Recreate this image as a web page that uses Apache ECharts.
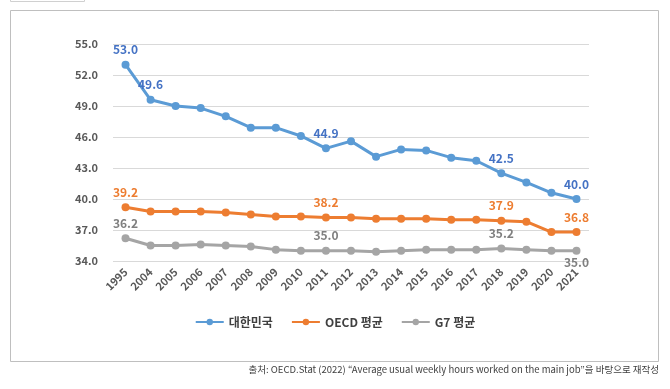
<!DOCTYPE html>
<html><head><meta charset="utf-8">
<script src="https://cdn.jsdelivr.net/npm/echarts@6/dist/echarts.min.js"></script>
<style>html,body{margin:0;padding:0;background:#fff}#c{width:670px;height:389px}</style>
</head><body><div id="c"></div>
<script>
const years = ['1995','2004','2005','2006','2007','2008','2009','2010','2011','2012','2013','2014','2015','2016','2017','2018','2019','2020','2021'];
const korea = [53.0,49.6,49.0,48.8,48.0,46.9,46.9,46.1,44.9,45.6,44.1,44.8,44.7,44.0,43.7,42.5,41.6,40.6,40.0];
const oecd  = [39.2,38.8,38.8,38.8,38.7,38.5,38.3,38.3,38.2,38.2,38.1,38.1,38.1,38.0,38.0,37.9,37.8,36.8,36.8];
const g7    = [36.2,35.5,35.5,35.6,35.5,35.4,35.1,35.0,35.0,35.0,34.9,35.0,35.1,35.1,35.1,35.2,35.1,35.0,35.0];
const seriesNames = ['대한민국','OECD 평균','G7 평균'];
const koreaLabelIdx = [0,1,8,15,18];
const oecdLabelIdx = [0,8,15,18];
const g7LabelIdx = [0,8,15];
const g7LabelBelowIdx = [18];
const yTicks = [34,37,40,43,46,49,52,55];
const sourceText = '출처: OECD.Stat (2022) “Average usual weekly hours worked on the main job”을 바탕으로 재작성';

const FONT = '"Noto Sans CJK KR", "Noto Sans", sans-serif';
const colors = ['#5B9BD5','#ED7D31','#A5A5A5'];
const labelColors = ['#4472C4','#ED7D31','#7F7F7F'];

function mk(values, idxAbove, idxBelow) {
  return values.map((v,i)=>{
    const o = {value:v};
    if (idxAbove.includes(i)) o.label = {show:true, position:'top'};
    else if (idxBelow && idxBelow.includes(i)) o.label = {show:true, position:'bottom', distance:2};
    return o;
  });
}
const chart = echarts.init(document.getElementById('c'));
const lblBase = (c)=>({show:false, fontFamily:FONT, fontWeight:'bold', fontSize:12, color:c, distance:5, formatter:p=>p.value.toFixed(1)});
chart.setOption({
  animation:false,
  grid:{left:113, right:81, top:44, bottom:128},
  xAxis:{type:'category', data:years, boundaryGap:true,
    axisLine:{show:false}, axisTick:{show:false},
    axisLabel:{rotate:45, fontFamily:FONT, fontSize:11, fontWeight:'bold', color:'#595959', margin:9, interval:0}},
  yAxis:{type:'value', min:34, max:55, interval:3,
    axisLine:{show:false}, axisTick:{show:false},
    splitLine:{lineStyle:{color:'#D9D9D9', width:1}},
    axisLabel:{fontFamily:FONT, fontSize:11, fontWeight:'bold', color:'#595959', margin:15, formatter:v=>v.toFixed(1)}},
  legend:{data:seriesNames, bottom:56, left:'center', itemWidth:28, itemHeight:8, itemGap:18,
    textStyle:{fontFamily:FONT, fontSize:12, fontWeight:'bold', color:'#404040'}},
  title:{text:sourceText, right:6, bottom:10, textStyle:{fontFamily:FONT, fontSize:9.5, fontWeight:'normal', color:'#404040'}},
  graphic:[
    {type:'rect', shape:{x:10.5,y:10.5,width:648,height:351}, style:{fill:'none', stroke:'#BFBFBF', lineWidth:1}, silent:true, z:-1},
    {type:'rect', shape:{x:10.5,y:-10,width:74,height:11.5}, style:{fill:'none', stroke:'#D0D0D0', lineWidth:1}, silent:true, z:-1}
  ],
  series:[
    {name:seriesNames[0], type:'line', data:mk(korea,koreaLabelIdx,null), color:colors[0], lineStyle:{width:3}, symbol:'circle', symbolSize:8, label:lblBase(labelColors[0])},
    {name:seriesNames[1], type:'line', data:mk(oecd,oecdLabelIdx,null), color:colors[1], lineStyle:{width:3}, symbol:'circle', symbolSize:8, label:lblBase(labelColors[1])},
    {name:seriesNames[2], type:'line', data:mk(g7,g7LabelIdx,g7LabelBelowIdx), color:colors[2], lineStyle:{width:3}, symbol:'circle', symbolSize:8, label:lblBase(labelColors[2])}
  ]
});
</script></body></html>
